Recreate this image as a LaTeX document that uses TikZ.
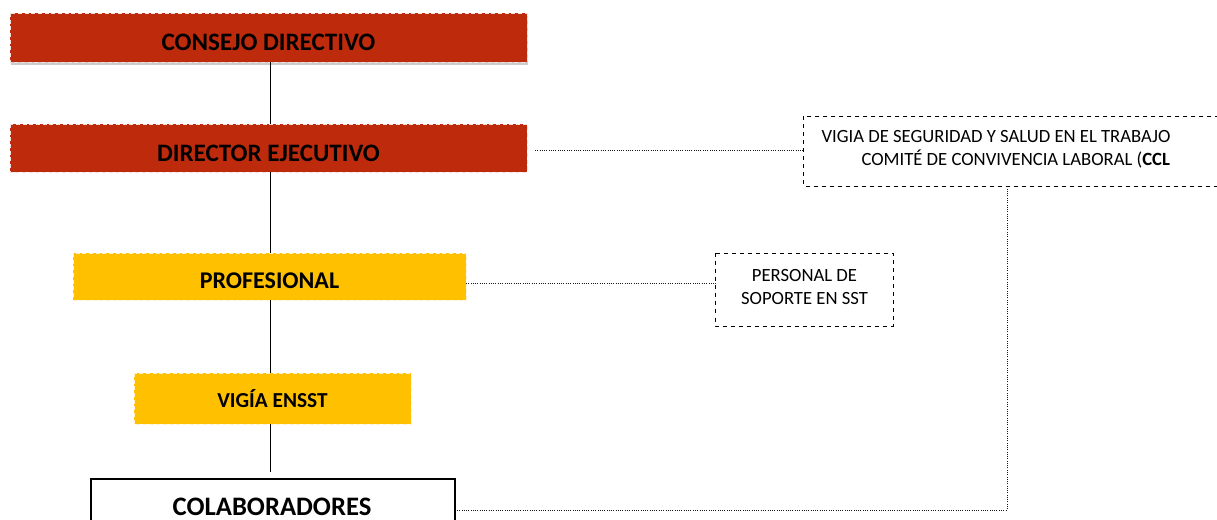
\documentclass[tikz,border=0pt]{standalone}
\usepackage{fontspec}
\setmainfont{Carlito}
\usetikzlibrary{shadows}
\definecolor{redbox}{RGB}{190,42,12}
\definecolor{yelbox}{RGB}{255,192,0}
\tikzset{
  px/.style={x=0.75pt,y=-0.75pt},
  redfill/.style={fill=redbox,draw=white!85!redbox,densely dashed,line width=0.4pt},
  yelfill/.style={fill=yelbox,draw=white!80!yelbox,densely dashed,line width=0.4pt},
  dashbox/.style={draw=black,dashed,line width=0.6pt,fill=white},
  solidline/.style={draw=black,line width=0.7pt},
  dotline/.style={draw=black!90,densely dotted,line width=0.7pt},
  lbl/.style={inner sep=0pt,anchor=center,text=black}
}
\begin{document}
\begin{tikzpicture}[px]
\useasboundingbox (0,0) rectangle (1217,520);
\clip (0,0) rectangle (1217,520);
% boxes as shapes
\path[redfill,drop shadow={shadow xshift=1pt,shadow yshift=-2.5pt,opacity=0.4}] (10,13) rectangle (527,62);
\node[lbl,font=\fontsize{18.8}{22}\selectfont\bfseries] (cons) at (268.5,42) {CONSEJO DIRECTIVO};
\coordinate (consS) at (270,62);
\path[redfill] (10,124) rectangle (527,172);
\node[lbl,font=\fontsize{18.8}{22}\selectfont\bfseries] (dir) at (268.5,153) {DIRECTOR EJECUTIVO};
\coordinate (dirN) at (270,124);
\coordinate (dirS) at (270,172);
\coordinate (dirE) at (535,150);
\path[yelfill] (73,253) rectangle (466,300);
\node[lbl,font=\fontsize{18}{20}\selectfont\bfseries] (prof) at (269.5,281) {PROFESIONAL};
\coordinate (profN) at (270,253);
\coordinate (profS) at (270,300);
\coordinate (profE) at (466,283);
\path[yelfill] (134,373) rectangle (411,424);
\node[lbl,font=\fontsize{16}{18}\selectfont\bfseries] (vig) at (272.5,399) {VIGÍA ENSST};
\coordinate (vigN) at (270,373);
\coordinate (vigS) at (270,424);
\path[draw=black,line width=0.8pt,fill=white] (91,479) rectangle (455,540);
\node[lbl,font=\fontsize{20}{22}\selectfont\bfseries] (col) at (272,507) {COLABORADORES};
\coordinate (colN) at (270,472);
\coordinate (colE) at (457,510);
% right side boxes
\path[dashbox] (803.5,116.5) rectangle (1225,186.5);
\node[lbl,font=\fontsize{14}{17.25}\selectfont,align=left] (vst) at (996,149) {VIGIA DE SEGURIDAD Y SALUD EN EL TRABAJO\\\hspace*{30pt}COMITÉ DE CONVIVENCIA LABORAL (\textbf{CCL}};
\coordinate (vstW) at (803.5,150);
\coordinate (vstS) at (1007,186.5);
\path[dashbox] (715.5,253.5) rectangle (893,326);
\node[lbl,font=\fontsize{14}{17.25}\selectfont,align=center] (pers) at (804.5,287) {PERSONAL DE\\SOPORTE EN SST};
\coordinate (persW) at (715.5,283);
% connectors
\draw[solidline] (consS) -- (dirN);
\draw[solidline] (dirS) -- (profN);
\draw[solidline] (profS) -- (vigN);
\draw[solidline] (vigS) -- (colN);
\draw[dotline] (dirE) -- (vstW);
\draw[dotline] (profE) -- (persW);
\draw[dotline] (colE) -| (vstS);
\end{tikzpicture}
\end{document}
